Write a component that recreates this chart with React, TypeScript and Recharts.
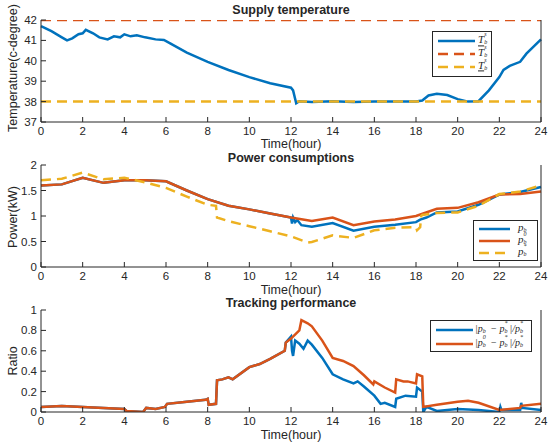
import React from 'react';
import { LineChart, Line, XAxis, YAxis } from 'recharts';

const BLUE = '#0072BD';
const ORANGE = '#D95319';
const YELLOW = '#EDB120';
const AXIS = '#262626';
const FONT = '"Liberation Sans", Arial, sans-serif';

const timeTicks = [0, 2, 4, 6, 8, 10, 12, 14, 16, 18, 20, 22, 24];
const tempTicks = [37, 38, 39, 40, 41, 42];
const powerTicks = [0, 0.5, 1, 1.5, 2];
const ratioTicks = [0, 0.2, 0.4, 0.6, 0.8, 1];

// supply temperature
const tempTime = [0, 0.5, 1, 1.25, 1.5, 1.8, 2.0, 2.15, 2.5, 2.8, 3.2, 3.5, 3.8, 4.0, 4.3, 4.6, 5.0, 5.5, 5.9, 6.2, 7, 8, 9, 10, 11, 12, 12.1, 12.25, 12.4, 13, 14, 15, 16, 17, 18, 18.3, 18.6, 19, 19.5, 20, 20.5, 21, 21.5, 22, 22.2, 22.5, 23, 23.3, 24];
const tempValue = [41.7, 41.45, 41.15, 41.0, 41.1, 41.3, 41.35, 41.52, 41.35, 41.15, 41.05, 41.2, 41.15, 41.3, 41.2, 41.25, 41.15, 41.05, 41.02, 40.85, 40.4, 39.95, 39.55, 39.2, 38.9, 38.68, 38.55, 37.92, 38.02, 37.98, 38.02, 37.98, 38.0, 38.0, 38.0, 38.05, 38.3, 38.38, 38.32, 38.12, 38.0, 38.02, 38.55, 39.2, 39.55, 39.75, 39.95, 40.35, 41.05];
const tempBoundTime = [0, 24];
const tempUpper = [42, 42];
const tempLower = [38, 38];

// power consumptions
const powerTime = [0, 1, 2, 3, 4, 5, 6, 7, 8, 9, 10, 11, 12, 13, 14, 15, 16, 17, 18, 19, 20, 21, 22, 23, 24];
const powerBase = [1.6, 1.62, 1.75, 1.65, 1.7, 1.7, 1.68, 1.5, 1.33, 1.2, 1.13, 1.05, 0.97, 0.9, 0.97, 0.82, 0.89, 0.93, 1.0, 1.14, 1.16, 1.27, 1.42, 1.43, 1.48];
const powerTrackTime = [0, 1, 2, 3, 4, 5, 6, 7, 8, 9, 10, 11, 12, 12.05, 12.1, 12.2, 12.3, 12.5, 13, 14, 15, 16, 17, 18, 18.2, 18.5, 19, 20, 21, 22, 23, 24];
const powerTrack = [1.6, 1.62, 1.75, 1.65, 1.7, 1.7, 1.68, 1.5, 1.33, 1.2, 1.13, 1.05, 0.97, 0.85, 0.97, 0.88, 0.92, 0.82, 0.79, 0.86, 0.71, 0.79, 0.83, 0.88, 0.93, 0.97, 1.07, 1.09, 1.22, 1.42, 1.47, 1.57];
const powerRefTime = [0, 1, 2, 3, 4, 5, 6, 7, 8, 8.4, 8.45, 9, 10, 11, 12, 12.8, 13, 14, 15, 16, 17, 18, 18.05, 18.2, 18.25, 18.3, 19, 20, 21, 22, 23, 24];
const powerRef = [1.7, 1.73, 1.85, 1.72, 1.75, 1.66, 1.55, 1.38, 1.22, 1.2, 0.97, 0.9, 0.8, 0.7, 0.6, 0.48, 0.49, 0.62, 0.57, 0.72, 0.77, 0.78, 0.72, 0.78, 1.0, 1.02, 1.06, 1.07, 1.2, 1.43, 1.48, 1.6];

// tracking performance
const ratioBaseTime = [0, 1, 2, 3, 4, 4.1, 4.9, 5.05, 5.5, 5.95, 6.05, 7, 7.9, 8.0, 8.05, 8.4, 8.45, 8.7, 9.0, 9.2, 10, 10.5, 11, 11.7, 11.75, 12, 12.4, 12.5, 12.8, 13, 13.5, 14, 14.5, 15, 15.5, 15.95, 16, 16.5, 17, 17.05, 17.4, 17.6, 18, 18.05, 18.3, 18.35, 19, 20, 20.5, 21, 22, 22.5, 23, 23.05, 24];
const ratioBase = [0.05, 0.06, 0.05, 0.04, 0.03, 0.01, 0.0, 0.04, 0.03, 0.05, 0.08, 0.1, 0.12, 0.13, 0.07, 0.08, 0.31, 0.32, 0.34, 0.32, 0.44, 0.47, 0.52, 0.6, 0.68, 0.72, 0.8, 0.9, 0.87, 0.84, 0.7, 0.53, 0.5, 0.45, 0.36, 0.27, 0.3, 0.24, 0.19, 0.32, 0.3, 0.3, 0.28, 0.37, 0.35, 0.05, 0.07, 0.1, 0.11, 0.09, 0.02, 0.03, 0.04, 0.06, 0.08];
const ratioTrackTime = [0, 1, 2, 3, 4, 4.1, 4.9, 5.05, 5.5, 5.95, 6.05, 7, 7.9, 8.0, 8.05, 8.4, 8.45, 8.7, 9.0, 9.2, 10, 10.5, 11, 11.7, 11.75, 12, 12.05, 12.1, 12.2, 12.4, 12.6, 12.8, 13, 13.5, 14, 14.5, 15, 15.2, 15.5, 16, 16.3, 16.5, 17, 17.05, 17.5, 18, 18.05, 18.3, 18.35, 18.5, 19, 20, 21, 22, 22.05, 22.1, 23, 23.05, 23.1, 24];
const ratioTrack = [0.05, 0.06, 0.05, 0.04, 0.03, 0.01, 0.0, 0.04, 0.03, 0.05, 0.08, 0.1, 0.12, 0.13, 0.07, 0.08, 0.31, 0.32, 0.34, 0.32, 0.44, 0.47, 0.52, 0.6, 0.68, 0.74, 0.6, 0.55, 0.7, 0.67, 0.62, 0.7, 0.66, 0.53, 0.37, 0.32, 0.28, 0.3, 0.25, 0.16, 0.08, 0.09, 0.05, 0.13, 0.16, 0.15, 0.24, 0.2, 0.0, 0.05, 0.01, 0.03, 0.02, 0.0, 0.05, 0.02, 0.02, 0.09, 0.04, 0.02];

const toRows = (t: number[], v: number[]) => t.map((x, i) => ({ t: x, v: v[i] }));

const BottomTick = ({ x, y, payload }: any) => (
    <g>
        <line x1={x} x2={x} y1={y} y2={y - 5} stroke={AXIS} />
        <text x={x} y={y + 13} textAnchor="middle" fontSize={11.5} fill={AXIS} fontFamily={FONT}>{payload.value}</text>
    </g>
);
const TopTick = ({ x, y }: any) => <line x1={x} x2={x} y1={y} y2={y + 5} stroke={AXIS} />;
const LeftTick = ({ x, y, payload }: any) => (
    <g>
        <line x1={x} x2={x + 5} y1={y} y2={y} stroke={AXIS} />
        <text x={x - 4} y={y + 4} textAnchor="end" fontSize={11.5} fill={AXIS} fontFamily={FONT}>{payload.value}</text>
    </g>
);
const RightTick = ({ x, y }: any) => <line x1={x} x2={x - 5} y1={y} y2={y} stroke={AXIS} />;

function Panel({ top, domain, ticks, children }: any) {
    return (
        <div style={{ position: 'absolute', left: 0, top }}>
            <LineChart width={548} height={152} margin={{ top: 20, right: 0, bottom: 0, left: 0 }}>
                <XAxis xAxisId="b" type="number" dataKey="t" domain={[0, 24]} ticks={timeTicks} height={30} interval={0}
                    stroke={AXIS} tickLine={false} tickSize={0} tickMargin={0} tick={<BottomTick />} allowDuplicatedCategory={false} />
                <XAxis xAxisId="t" orientation="top" type="number" dataKey="t" domain={[0, 24]} ticks={timeTicks} height={0} interval={0}
                    stroke={AXIS} tickLine={false} tickSize={0} tickMargin={0} tick={<TopTick />} />
                <YAxis yAxisId="l" type="number" domain={domain} ticks={ticks} width={41} allowDataOverflow interval={0}
                    stroke={AXIS} tickLine={false} tickSize={0} tickMargin={0} tick={<LeftTick />} />
                <YAxis yAxisId="r" orientation="right" type="number" domain={domain} ticks={ticks} width={7} interval={0}
                    stroke={AXIS} tickLine={false} tickSize={0} tickMargin={0} tick={<RightTick />} />
                {children}
            </LineChart>
        </div>
    );
}

const series = (key: string, rows: any[], color: string, dashed = false) => (
    <Line key={key} xAxisId="b" yAxisId="l" data={rows} dataKey="v" type="linear" stroke={color} strokeWidth={2.5}
        strokeDasharray={dashed ? '10 6' : undefined} dot={false} isAnimationActive={false} />
);

const Txt = ({ x, y, children, bold = false, size = 12.5 }: any) => (
    <div style={{ position: 'absolute', left: x, top: y, transform: 'translate(-50%, -50%)', whiteSpace: 'nowrap', lineHeight: `${size}px`,
        fontFamily: FONT, fontSize: size, fontWeight: bold ? 'bold' : 'normal', color: AXIS }}>{children}</div>
);
const VTxt = ({ x, y, children }: any) => (
    <div style={{ position: 'absolute', left: x, top: y, transform: 'translate(-50%, -50%) rotate(-90deg)', whiteSpace: 'nowrap',
        fontFamily: FONT, fontSize: 12.5, color: AXIS }}>{children}</div>
);

const mathStyle: React.CSSProperties = { fontFamily: '"Liberation Serif", "DejaVu Serif", serif', fontStyle: 'italic', fontSize: 11, color: AXIS, lineHeight: '11px' };
const scriptStyle: React.CSSProperties = { position: 'absolute', left: '100%', marginLeft: -5, fontSize: 6, lineHeight: '5px' };
// symbol with stacked superscript / subscript
const Sym = ({ base, sup, sub = 'b', deco }: any) => (
    <span style={{ display: 'inline-block', position: 'relative', paddingRight: 5 }}>
        <span style={{ textDecoration: deco }}>{base}</span>
        {sup ? <span style={{ ...scriptStyle, top: -2 }}>{sup}</span> : null}
        <span style={{ ...scriptStyle, top: 5.5 }}>{sub}</span>
    </span>
);

const Legend = ({ x, y, w, h, rows, lineX1, lineX2, textX, fontSize = 11 }: any) => (
    <div style={{ position: 'absolute', left: x, top: y, width: w, height: h, border: `1px solid ${AXIS}`, background: '#fff', boxSizing: 'border-box' }}>
        <svg width={w} height={h} style={{ position: 'absolute', left: 0, top: 0 }}>
            {rows.map((r: any, i: number) => (
                <line key={i} x1={lineX1} x2={lineX2} y1={r.y} y2={r.y} stroke={r.color} strokeWidth={2.5}
                    strokeDasharray={r.dashed ? '10 6' : undefined} />
            ))}
        </svg>
        {rows.map((r: any, i: number) => (
            <div key={i} style={{ ...mathStyle, fontSize, position: 'absolute', left: textX, top: r.y, transform: 'translateY(-60%)', whiteSpace: 'nowrap' }}>{r.label}</div>
        ))}
    </div>
);

export default function App() {
    return (
        <div style={{ position: 'absolute', left: 0, top: 0, width: 548, height: 445, background: '#fff' }}>
            <Panel top={0} domain={[37, 42]} ticks={tempTicks}>
                {series('ts', toRows(tempTime, tempValue), BLUE)}
                {series('tu', toRows(tempBoundTime, tempUpper), ORANGE, true)}
                {series('tl', toRows(tempBoundTime, tempLower), YELLOW, true)}
            </Panel>
            <Panel top={145} domain={[0, 2]} ticks={powerTicks}>
                {series('pb', toRows(powerTrackTime, powerTrack), BLUE)}
                {series('p0', toRows(powerTime, powerBase), ORANGE)}
                {series('ps', toRows(powerRefTime, powerRef), YELLOW, true)}
            </Panel>
            <Panel top={290} domain={[0, 1]} ticks={ratioTicks}>
                {series('rb', toRows(ratioTrackTime, ratioTrack), BLUE)}
                {series('r0', toRows(ratioBaseTime, ratioBase), ORANGE)}
            </Panel>

            <Txt x={291} y={10} bold>Supply temperature</Txt>
            <Txt x={291} y={157.5} bold>Power consumptions</Txt>
            <Txt x={291} y={303} bold>Tracking performance</Txt>
            <Txt x={291} y={144.2}>Time(hour)</Txt>
            <Txt x={291} y={290}>Time(hour)</Txt>
            <Txt x={291} y={435}>Time(hour)</Txt>
            <VTxt x={13} y={68}>Temperature(c-degree)</VTxt>
            <VTxt x={13} y={217}>Power(kW)</VTxt>
            <VTxt x={13} y={361}>Ratio</VTxt>

            <Legend x={432} y={31} w={60} h={46} lineX1={5} lineX2={42} textX={45}
                rows={[
                    { y: 9, color: BLUE, label: <Sym base="T" sup="s" /> },
                    { y: 22, color: ORANGE, dashed: true, label: <Sym base="T" sup="s" deco="overline" /> },
                    { y: 35, color: YELLOW, dashed: true, label: <Sym base="T" sup="s" deco="underline" /> },
                ]} />
            <Legend x={473} y={220} w={65} h={41} lineX1={5} lineX2={36} textX={44}
                rows={[
                    { y: 8, color: BLUE, label: <Sym base="p" /> },
                    { y: 20, color: ORANGE, label: <Sym base="p" sup="0" /> },
                    { y: 32, color: YELLOW, dashed: true, label: <Sym base="p" sup="*" /> },
                ]} />
            <Legend x={430} y={320} w={102} h={32} lineX1={5} lineX2={42} textX={44} fontSize={10}
                rows={[
                    { y: 9, color: BLUE, label: <span>|<Sym base="p" /> − <Sym base="p" sup="*" />|/<Sym base="p" sup="*" /></span> },
                    { y: 23, color: ORANGE, label: <span>|<Sym base="p" sup="0" /> − <Sym base="p" sup="*" />|/<Sym base="p" sup="*" /></span> },
                ]} />
        </div>
    );
}
